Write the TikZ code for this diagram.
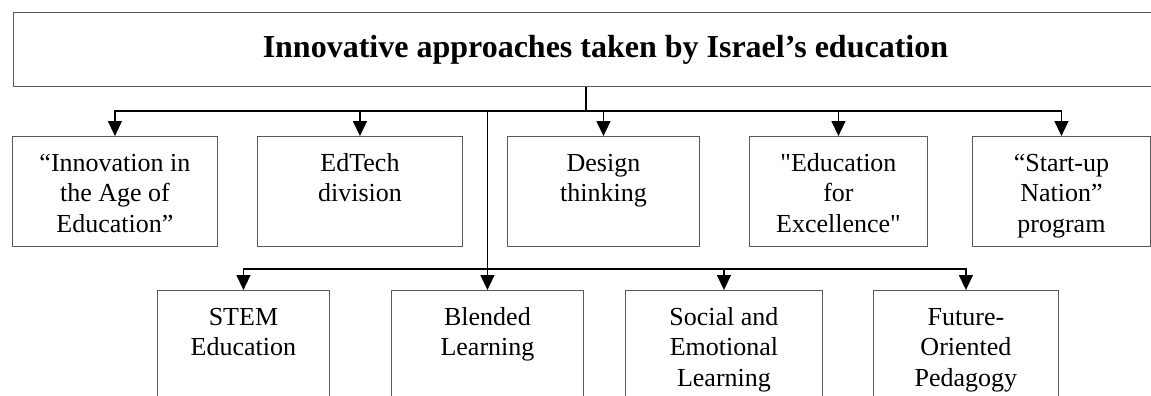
\documentclass[tikz,border=0pt]{standalone}
\usepackage{fontspec}
\setmainfont{Liberation Serif}
\usetikzlibrary{arrows.meta,positioning}

\newcommand{\cell}[3]{\parbox[t][#2][t]{#1}{\centering\rule{0pt}{35pt}#3}}

\begin{document}
\begin{tikzpicture}[x=1pt,y=-1pt,>={Triangle[length=15pt,width=14pt]},
  box/.style={draw=black!65,line width=0.9pt,inner sep=0pt,anchor=north west,
    font=\fontsize{26}{30.5}\selectfont},
  head/.style={draw=black!65,line width=0.9pt,anchor=north west,
    minimum width=1184pt,minimum height=74pt,font=\fontsize{32}{38}\selectfont\bfseries},
  link/.style={->,line width=1.4pt}]

\useasboundingbox (0,0) rectangle (1151,396);
\clip (0,0) rectangle (1151,396);

\node[head] (title) at (13,12) {Innovative approaches taken by Israel’s education};

% first row
\node[box] (innov)   at (12,136)  {\cell{205pt}{110pt}{“Innovation in\\the Age of\\Education”}};
\node[box] (edtech)  at (257,136) {\cell{205pt}{110pt}{EdTech\\division}};
\node[box] (design)  at (507,136) {\cell{192pt}{110pt}{Design\\thinking}};
\node[box] (excel)   at (749,136) {\cell{178pt}{110pt}{\textquotedbl Education\\for\\Excellence\textquotedbl}};
\node[box] (startup) at (972,136) {\cell{178pt}{110pt}{“Start-up\\Nation”\\program}};

% second row
\node[box] (stem)    at (157,290) {\cell{172pt}{140pt}{STEM\\Education}};
\node[box] (blended) at (391,290) {\cell{192pt}{140pt}{Blended\\Learning}};
\node[box] (sel)     at (625,290) {\cell{197pt}{140pt}{Social and\\Emotional\\Learning}};
\node[box] (future)  at (873,290) {\cell{185pt}{140pt}{Future-\\Oriented\\Pedagogy}};

\coordinate (hub) at (586,111);
\coordinate (low) at (487,269);

\draw[line width=1.4pt] (title.south -| hub) -- (hub);
\foreach \n in {innov,edtech,design,excel,startup}
  \draw[link] (hub) -| (\n);

\draw[link] (hub -| blended) -- (blended);
\foreach \n in {stem,sel,future}
  \draw[link] (low) -| (\n);
\end{tikzpicture}
\end{document}
